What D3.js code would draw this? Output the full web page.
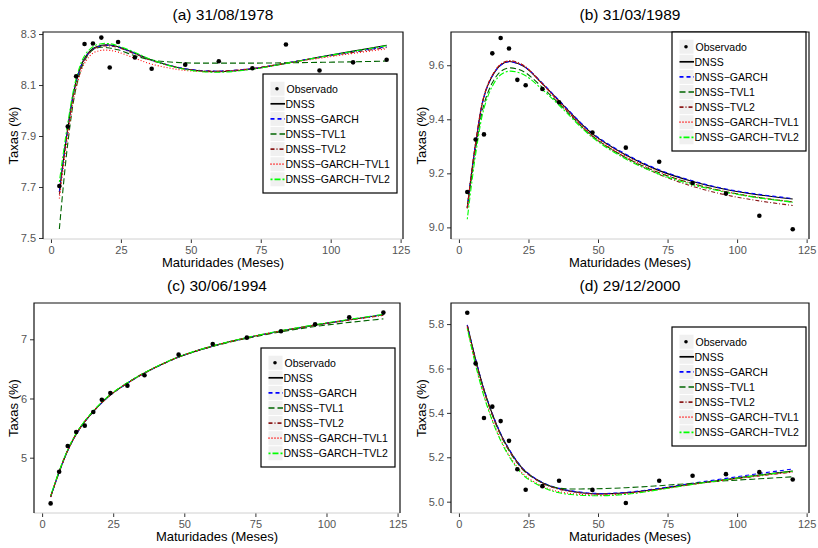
<!DOCTYPE html>
<html>
<head>
<meta charset="utf-8">
<script src="https://cdn.jsdelivr.net/npm/d3@7"></script>
<style>
  body { margin: 0; background: #fff; }
  text { font-family: "Liberation Sans", Arial, Helvetica, sans-serif; }
</style>
</head>
<body>
<script>
var width = 818,
    height = 548;

// maturities (months)
var maturities = [3, 6, 9, 12, 15, 18, 21, 24, 30, 36, 48, 60, 72, 84, 96, 108, 120];

var seriesNames = ["DNSS", "DNSS\u2212GARCH", "DNSS\u2212TVL1", "DNSS\u2212TVL2", "DNSS\u2212GARCH\u2212TVL1", "DNSS\u2212GARCH\u2212TVL2"];

// (a) 31/08/1978
var obsA   = [7.704, 7.937, 8.134, 8.261, 8.263, 8.286, 8.169, 8.269, 8.208, 8.164, 8.180, 8.193, 8.166, 8.259, 8.157, 8.189, 8.199];
var dnssA  = [7.680, 7.930, 8.115, 8.205, 8.243, 8.256, 8.257, 8.250, 8.225, 8.198, 8.163, 8.152, 8.163, 8.185, 8.210, 8.233, 8.256];
var garchA = [7.680, 7.930, 8.113, 8.203, 8.240, 8.253, 8.255, 8.248, 8.224, 8.197, 8.164, 8.155, 8.165, 8.186, 8.209, 8.230, 8.250];
var tvl1A  = [7.535, 7.870, 8.090, 8.195, 8.238, 8.248, 8.245, 8.238, 8.215, 8.198, 8.187, 8.186, 8.186, 8.187, 8.189, 8.191, 8.194];
var tvl2A  = [7.670, 7.925, 8.110, 8.200, 8.240, 8.252, 8.253, 8.247, 8.222, 8.196, 8.163, 8.155, 8.165, 8.186, 8.208, 8.228, 8.247];
var gtvl1A = [7.655, 7.900, 8.090, 8.185, 8.225, 8.236, 8.236, 8.229, 8.205, 8.182, 8.157, 8.153, 8.164, 8.185, 8.205, 8.224, 8.242];
var gtvl2A = [7.720, 7.950, 8.125, 8.215, 8.250, 8.262, 8.262, 8.254, 8.228, 8.199, 8.161, 8.150, 8.162, 8.185, 8.209, 8.232, 8.254];

// (b) 31/03/1989
var obsB   = [9.131, 9.325, 9.344, 9.644, 9.701, 9.662, 9.546, 9.526, 9.512, 9.463, 9.351, 9.295, 9.243, 9.164, 9.125, 9.043, 8.993];
var dnssB  = [9.074, 9.311, 9.484, 9.560, 9.601, 9.614, 9.607, 9.591, 9.532, 9.468, 9.346, 9.268, 9.210, 9.170, 9.140, 9.120, 9.105];
var garchB = [9.072, 9.309, 9.482, 9.560, 9.600, 9.613, 9.607, 9.592, 9.534, 9.470, 9.349, 9.271, 9.213, 9.172, 9.142, 9.122, 9.107];
var tvl1B  = [9.070, 9.290, 9.455, 9.535, 9.577, 9.590, 9.586, 9.572, 9.518, 9.458, 9.338, 9.258, 9.202, 9.162, 9.132, 9.110, 9.094];
var tvl2B  = [9.072, 9.312, 9.486, 9.563, 9.604, 9.617, 9.611, 9.594, 9.531, 9.464, 9.337, 9.258, 9.196, 9.152, 9.120, 9.098, 9.081];
var gtvl1B = [9.072, 9.311, 9.485, 9.562, 9.603, 9.615, 9.609, 9.593, 9.532, 9.466, 9.342, 9.263, 9.204, 9.162, 9.132, 9.111, 9.095];
var gtvl2B = [9.030, 9.270, 9.440, 9.522, 9.565, 9.578, 9.574, 9.561, 9.510, 9.452, 9.333, 9.253, 9.197, 9.158, 9.130, 9.109, 9.093];

// (c) 30/06/1994
var obsC   = [4.228, 4.763, 5.197, 5.434, 5.541, 5.772, 5.980, 6.093, 6.217, 6.392, 6.741, 6.921, 7.028, 7.135, 7.254, 7.372, 7.451];
var dnssC  = [4.340, 4.760, 5.120, 5.400, 5.610, 5.780, 5.930, 6.060, 6.260, 6.430, 6.700, 6.885, 7.025, 7.140, 7.240, 7.330, 7.415];
var garchC = [4.335, 4.755, 5.115, 5.395, 5.605, 5.778, 5.928, 6.058, 6.258, 6.428, 6.698, 6.884, 7.024, 7.140, 7.240, 7.332, 7.418];
var tvl1C  = [4.345, 4.765, 5.125, 5.405, 5.615, 5.785, 5.935, 6.065, 6.265, 6.435, 6.700, 6.880, 7.015, 7.125, 7.215, 7.285, 7.345];
var tvl2C  = [4.340, 4.760, 5.120, 5.400, 5.610, 5.780, 5.930, 6.060, 6.260, 6.430, 6.700, 6.885, 7.025, 7.140, 7.238, 7.325, 7.405];
var gtvl1C = [4.342, 4.762, 5.122, 5.402, 5.612, 5.782, 5.932, 6.062, 6.262, 6.432, 6.702, 6.887, 7.027, 7.142, 7.242, 7.330, 7.410];
var gtvl2C = [4.360, 4.775, 5.135, 5.412, 5.620, 5.790, 5.938, 6.068, 6.266, 6.436, 6.704, 6.889, 7.030, 7.145, 7.246, 7.336, 7.420];

// (d) 29/12/2000
var obsD   = [5.851, 5.623, 5.377, 5.428, 5.363, 5.274, 5.146, 5.054, 5.070, 5.094, 5.053, 4.994, 5.094, 5.117, 5.124, 5.133, 5.100];
var dnssD  = [5.795, 5.640, 5.505, 5.395, 5.305, 5.235, 5.178, 5.135, 5.085, 5.058, 5.036, 5.040, 5.058, 5.080, 5.100, 5.120, 5.138];
var garchD = [5.797, 5.642, 5.507, 5.397, 5.307, 5.237, 5.180, 5.137, 5.087, 5.060, 5.038, 5.042, 5.060, 5.083, 5.105, 5.127, 5.147];
var tvl1D  = [5.790, 5.635, 5.500, 5.390, 5.300, 5.230, 5.174, 5.132, 5.084, 5.061, 5.058, 5.063, 5.072, 5.083, 5.094, 5.103, 5.112];
var tvl2D  = [5.793, 5.638, 5.503, 5.393, 5.303, 5.233, 5.176, 5.133, 5.083, 5.056, 5.035, 5.039, 5.057, 5.079, 5.098, 5.116, 5.133];
var gtvl1D = [5.785, 5.620, 5.480, 5.370, 5.280, 5.210, 5.155, 5.115, 5.070, 5.045, 5.030, 5.035, 5.055, 5.078, 5.098, 5.117, 5.135];
var gtvl2D = [5.780, 5.615, 5.475, 5.365, 5.275, 5.205, 5.150, 5.110, 5.066, 5.040, 5.027, 5.033, 5.054, 5.078, 5.099, 5.119, 5.137];

var xTicks = [0, 25, 50, 75, 100, 125];

var colors = ["#000000", "#0000ff", "#006400", "#8b1a1a", "#ff0000", "#00ff00"];
var dashes = [null, "4,3", "6,3", "4,2,1,2", "1,2", "2,2,6,2"];

var panels = [
  {title: "(a) 31/08/1978", obs: obsA, fits: [dnssA, garchA, tvl1A, tvl2A, gtvl1A, gtvl2A],
   xr: [43, 403], yr: [239, 32], yd: [7.496, 8.308], yTicks: [7.5, 7.7, 7.9, 8.1, 8.3], fmt: ".1f",
   legend: [263, 74], ytx: 13},
  {title: "(b) 31/03/1989", obs: obsB, fits: [dnssB, garchB, tvl1B, tvl2B, gtvl1B, gtvl2B],
   xr: [451, 809], yr: [239, 32], yd: [8.957, 9.723], yTicks: [9.0, 9.2, 9.4, 9.6], fmt: ".1f",
   legend: [672, 32], ytx: 421},
  {title: "(c) 30/06/1994", obs: obsC, fits: [dnssC, garchC, tvl1C, tvl2C, gtvl1C, gtvl2C],
   xr: [34, 400], yr: [513, 303], yd: [4.066, 7.613], yTicks: [5, 6, 7], fmt: "d",
   legend: [261, 348], ytx: 13},
  {title: "(d) 29/12/2000", obs: obsD, fits: [dnssD, garchD, tvl1D, tvl2D, gtvl1D, gtvl2D],
   xr: [451, 809], yr: [513, 303], yd: [4.949, 5.895], yTicks: [5.0, 5.2, 5.4, 5.6, 5.8], fmt: ".1f",
   legend: [672, 327], ytx: 421}
];

var svg = d3.select("body").append("svg")
  .attr("width", width)
  .attr("height", height);

panels.forEach(function(p) {
  var x = d3.scaleLinear().domain([-2.85, 125.85]).range(p.xr);
  var y = d3.scaleLinear().domain(p.yd).range(p.yr);
  var g = svg.append("g");
  var cx = (p.xr[0] + p.xr[1]) / 2,
      cy = (p.yr[0] + p.yr[1]) / 2;

  //title
  g.append("text")
    .attr("x", cx)
    .attr("y", p.yr[1] - 12)
    .attr("text-anchor", "middle")
    .style("font-size", "15.5px")
    .attr("fill", "#000")
    .text(p.title);

  //axes
  var xAxis = g.append("g")
    .attr("transform", "translate(0," + p.yr[0] + ")")
    .call(d3.axisBottom(x).tickValues(xTicks).tickSize(4).tickSizeOuter(0));
  var yAxis = g.append("g")
    .attr("transform", "translate(" + p.xr[0] + ",0)")
    .call(d3.axisLeft(y).tickValues(p.yTicks).tickFormat(d3.format(p.fmt)).tickSize(4).tickSizeOuter(0));
  [xAxis, yAxis].forEach(function(a) {
    a.selectAll("text").style("font-size", "11px").attr("fill", "#555");
    a.selectAll(".tick line").attr("stroke", "#333");
    a.select(".domain").remove();
  });

  //panel frame: dark on top/left/right, light at the bottom
  g.append("line").attr("x1", p.xr[0]).attr("x2", p.xr[1]).attr("y1", p.yr[0]).attr("y2", p.yr[0])
    .attr("stroke", "#d0d0d0");
  g.append("path")
    .attr("d", "M" + p.xr[0] + "," + p.yr[0] + "V" + p.yr[1] + "H" + p.xr[1] + "V" + p.yr[0])
    .attr("fill", "none")
    .attr("stroke", "#111")
    .attr("stroke-width", 1.2);

  //axis titles
  g.append("text")
    .attr("x", cx)
    .attr("y", p.yr[0] + 27.5)
    .attr("text-anchor", "middle")
    .style("font-size", "13px")
    .text("Maturidades (Meses)");
  g.append("text")
    .attr("transform", "translate(" + (p.ytx + 5) + "," + cy + "), rotate(-90)")
    .attr("text-anchor", "middle")
    .style("font-size", "13px")
    .text("Taxas (%)");

  //fitted curves
  var line = d3.line()
    .x(function(d, i) { return x(maturities[i]); })
    .y(function(d) { return y(d); })
    .curve(d3.curveCatmullRom.alpha(0.5));

  p.fits.forEach(function(vals, k) {
    g.append("path")
      .datum(vals)
      .attr("d", line)
      .attr("fill", "none")
      .attr("stroke", colors[k])
      .attr("stroke-width", 1.1)
      .attr("stroke-dasharray", dashes[k]);
  });

  //observed points
  g.selectAll("circle.obs")
    .data(p.obs)
    .enter().append("circle")
      .attr("class", "obs")
      .attr("cx", function(d, i) { return x(maturities[i]); })
      .attr("cy", function(d) { return y(d); })
      .attr("r", 2.3)
      .attr("fill", "#000");

  //legend
  var lg = g.append("g")
    .attr("transform", "translate(" + p.legend[0] + "," + p.legend[1] + ")");
  lg.append("rect")
    .attr("width", 134)
    .attr("height", 119)
    .attr("fill", "#fff")
    .attr("stroke", "#000")
    .attr("stroke-width", 1.2);

  var labels = ["Observado"].concat(seriesNames);
  labels.forEach(function(lab, i) {
    var ry = 14.7 + i * 15.1;
    lg.append("rect")
      .attr("x", 7.5)
      .attr("y", ry - 7)
      .attr("width", 14)
      .attr("height", 14)
      .attr("fill", "#f0f0f0");
    if (i == 0) {
      lg.append("circle")
        .attr("cx", 14)
        .attr("cy", ry)
        .attr("r", 1.8)
        .attr("fill", "#000");
    } else {
      lg.append("line")
        .attr("x1", 7.5)
        .attr("x2", 22)
        .attr("y1", ry)
        .attr("y2", ry)
        .attr("stroke", colors[i - 1])
        .attr("stroke-width", 1.7)
        .attr("stroke-dasharray", dashes[i - 1]);
    }
    lg.append("text")
      .attr("x", i == 0 ? 23.5 : 22.5)
      .attr("y", ry + 3.8)
      .style("font-size", "10.5px")
      .text(lab);
  });
});
</script>
</body>
</html>
